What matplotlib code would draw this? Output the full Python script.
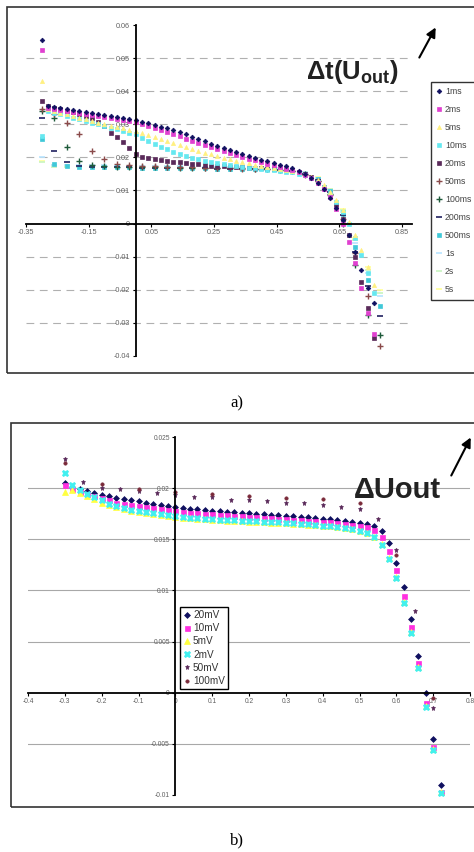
import matplotlib
matplotlib.use("Agg")
import matplotlib.pyplot as plt
from matplotlib.patches import Rectangle

plt.rcParams['font.family'] = ['Liberation Sans', 'DejaVu Sans']
plt.rcParams['mathtext.fontset'] = 'custom'
plt.rcParams['mathtext.rm'] = 'Liberation Sans:bold'
plt.rcParams['mathtext.bf'] = 'Liberation Sans:bold'
plt.rcParams['mathtext.it'] = 'Liberation Sans:bold'

# ---------------- data : chart a) ----------------
X_TOP = [-0.30, -0.28, -0.26, -0.24, -0.22, -0.20, -0.18, -0.16, -0.14, -0.12,
         -0.10, -0.08, -0.06, -0.04, -0.02, 0.00, 0.02, 0.04, 0.06, 0.08,
         0.10, 0.12, 0.14, 0.16, 0.18, 0.20, 0.22, 0.24, 0.26, 0.28,
         0.30, 0.32, 0.34, 0.36, 0.38, 0.40, 0.42, 0.44, 0.46, 0.48,
         0.50, 0.52, 0.54, 0.56, 0.58, 0.60, 0.62, 0.64, 0.66, 0.68,
         0.70, 0.72, 0.74, 0.76]
X_TOP2 = [-0.30, -0.26, -0.22, -0.18, -0.14, -0.10, -0.06, -0.02, 0.02, 0.06,
          0.10, 0.14, 0.18, 0.22, 0.26, 0.30, 0.34, 0.38, 0.42, 0.46,
          0.50, 0.54, 0.58, 0.62, 0.66, 0.70, 0.74, 0.78]

y_1ms = [0.0555, 0.0355, 0.0352, 0.0349, 0.0346, 0.0343, 0.0340, 0.0337, 0.0334, 0.0331,
         0.0328, 0.0325, 0.0322, 0.0319, 0.0316, 0.0313, 0.0308, 0.0303, 0.0298, 0.0293,
         0.0288, 0.0282, 0.0276, 0.0270, 0.0263, 0.0256, 0.0249, 0.0242, 0.0235, 0.0228,
         0.0222, 0.0216, 0.0210, 0.0204, 0.0198, 0.0193, 0.0188, 0.0183, 0.0178, 0.0173,
         0.0167, 0.0160, 0.0150, 0.0138, 0.0124, 0.0105, 0.0078, 0.0048, 0.0012, -0.0035,
         -0.0085, -0.0140, -0.0195, -0.0240]
y_2ms = [0.0525, 0.0350, 0.0347, 0.0344, 0.0341, 0.0338, 0.0335, 0.0332, 0.0329, 0.0326,
         0.0323, 0.0320, 0.0317, 0.0314, 0.0311, 0.0308, 0.0302, 0.0296, 0.0290, 0.0284,
         0.0278, 0.0271, 0.0264, 0.0257, 0.0250, 0.0243, 0.0237, 0.0231, 0.0225, 0.0219,
         0.0213, 0.0207, 0.0201, 0.0196, 0.0191, 0.0186, 0.0181, 0.0176, 0.0171, 0.0166,
         0.0161, 0.0155, 0.0147, 0.0137, 0.0124, 0.0106, 0.0080, 0.0045, 0.0000, -0.0055,
         -0.0120, -0.0195, -0.0270, -0.0335]
y_5ms = [0.0430, 0.0345, 0.0340, 0.0335, 0.0330, 0.0325, 0.0320, 0.0315, 0.0310, 0.0305,
         0.0300, 0.0296, 0.0292, 0.0288, 0.0284, 0.0280, 0.0274, 0.0268, 0.0262, 0.0256,
         0.0250, 0.0244, 0.0238, 0.0232, 0.0226, 0.0220, 0.0214, 0.0209, 0.0204, 0.0199,
         0.0194, 0.0190, 0.0186, 0.0182, 0.0178, 0.0175, 0.0172, 0.0169, 0.0166, 0.0163,
         0.0160, 0.0156, 0.0150, 0.0142, 0.0131, 0.0116, 0.0096, 0.0070, 0.0040, 0.0005,
         -0.0035, -0.0080, -0.0130, -0.0185]
y_10ms = [0.0265, 0.0340, 0.0335, 0.0330, 0.0325, 0.0320, 0.0315, 0.0310, 0.0305, 0.0300,
          0.0295, 0.0290, 0.0285, 0.0280, 0.0275, 0.0270, 0.0260, 0.0250, 0.0241, 0.0232,
          0.0224, 0.0217, 0.0210, 0.0204, 0.0199, 0.0194, 0.0190, 0.0186, 0.0182, 0.0179,
          0.0176, 0.0173, 0.0171, 0.0169, 0.0167, 0.0165, 0.0163, 0.0161, 0.0159, 0.0157,
          0.0155, 0.0151, 0.0146, 0.0138, 0.0127, 0.0112, 0.0092, 0.0066, 0.0035, -0.0002,
          -0.0045, -0.0095, -0.0150, -0.0210]
y_20ms = [0.0370, 0.0355, 0.0350, 0.0345, 0.0340, 0.0336, 0.0332, 0.0326, 0.0318, 0.0308,
          0.0296, 0.0275, 0.0262, 0.0246, 0.0228, 0.0210, 0.0200, 0.0197, 0.0194, 0.0191,
          0.0189, 0.0187, 0.0185, 0.0183, 0.0181, 0.0179, 0.0177, 0.0175, 0.0174, 0.0173,
          0.0172, 0.0171, 0.0170, 0.0169, 0.0168, 0.0167, 0.0166, 0.0165, 0.0164, 0.0163,
          0.0161, 0.0157, 0.0151, 0.0142, 0.0130, 0.0112, 0.0088, 0.0055, 0.0015, -0.0035,
          -0.0100, -0.0175, -0.0255, -0.0345]
y_50ms = [0.0345, 0.0330, 0.0305, 0.0270, 0.0220, 0.0196, 0.0180, 0.0176, 0.0174, 0.0173,
          0.0172, 0.0171, 0.0170, 0.0169, 0.0168, 0.0167, 0.0166, 0.0165, 0.0164, 0.0162,
          0.0158, 0.0148, 0.0128, 0.0085, 0.0015, -0.0090, -0.0220, -0.0370]
y_100ms = [0.0340, 0.0320, 0.0231, 0.0189, 0.0178, 0.0174, 0.0172, 0.0171, 0.0171, 0.0170,
           0.0170, 0.0169, 0.0169, 0.0168, 0.0168, 0.0167, 0.0167, 0.0166, 0.0165, 0.0163,
           0.0159, 0.0150, 0.0130, 0.0088, 0.0000, -0.0125, -0.0276, -0.0336]
y_200ms = [0.0320, 0.0219, 0.0185, 0.0175, 0.0172, 0.0171, 0.0170, 0.0170, 0.0169, 0.0169,
           0.0168, 0.0168, 0.0167, 0.0167, 0.0166, 0.0166, 0.0165, 0.0165, 0.0164, 0.0162,
           0.0158, 0.0150, 0.0132, 0.0095, 0.0025, -0.0085, -0.0190, -0.0280]
y_500ms = [0.0255, 0.0180, 0.0173, 0.0172, 0.0171, 0.0171, 0.0170, 0.0170, 0.0169, 0.0169,
           0.0168, 0.0168, 0.0167, 0.0167, 0.0166, 0.0166, 0.0165, 0.0165, 0.0164, 0.0162,
           0.0158, 0.0151, 0.0134, 0.0098, 0.0030, -0.0070, -0.0170, -0.0250]
y_1s = [0.0200, 0.0178, 0.0177, 0.0177, 0.0176, 0.0176, 0.0175, 0.0175, 0.0174, 0.0174,
        0.0173, 0.0173, 0.0172, 0.0172, 0.0171, 0.0171, 0.0170, 0.0170, 0.0169, 0.0167,
        0.0163, 0.0155, 0.0138, 0.0102, 0.0035, -0.0060, -0.0150, -0.0220]
y_2s = [0.0185, 0.0172, 0.0172, 0.0171, 0.0171, 0.0170, 0.0170, 0.0170, 0.0169, 0.0169,
        0.0169, 0.0168, 0.0168, 0.0168, 0.0167, 0.0167, 0.0166, 0.0166, 0.0165, 0.0164,
        0.0161, 0.0154, 0.0138, 0.0104, 0.0040, -0.0050, -0.0140, -0.0210]
y_5s = [0.0190, 0.0176, 0.0175, 0.0175, 0.0174, 0.0174, 0.0173, 0.0173, 0.0172, 0.0172,
        0.0171, 0.0171, 0.0170, 0.0170, 0.0169, 0.0169, 0.0168, 0.0168, 0.0167, 0.0166,
        0.0163, 0.0156, 0.0140, 0.0106, 0.0045, -0.0045, -0.0130, -0.0200]

TOP_LABELS = ['1ms', '2ms', '5ms', '10ms', '20ms', '50ms', '100ms', '200ms', '500ms', '1s', '2s', '5s']
TOP_X_TICKS = [-0.35, -0.15, 0.05, 0.25, 0.45, 0.65, 0.85]
TOP_Y_TICKS = [0.06, 0.05, 0.04, 0.03, 0.02, 0.01, 0.0, -0.01, -0.02, -0.03, -0.04]

# ---------------- data : chart b) ----------------
X_BOT = [-0.30, -0.28, -0.26, -0.24, -0.22, -0.20, -0.18, -0.16, -0.14, -0.12,
         -0.10, -0.08, -0.06, -0.04, -0.02, 0.00, 0.02, 0.04, 0.06, 0.08,
         0.10, 0.12, 0.14, 0.16, 0.18, 0.20, 0.22, 0.24, 0.26, 0.28,
         0.30, 0.32, 0.34, 0.36, 0.38, 0.40, 0.42, 0.44, 0.46, 0.48,
         0.50, 0.52, 0.54, 0.56, 0.58, 0.60, 0.62, 0.64, 0.66, 0.68,
         0.70, 0.72]
X_BOT50 = [-0.30, -0.25, -0.20, -0.15, -0.10, -0.05, 0.00, 0.05, 0.10, 0.15,
           0.20, 0.25, 0.30, 0.35, 0.40, 0.45, 0.50, 0.55, 0.60, 0.65, 0.70]
X_BOT100 = [-0.30, -0.20, -0.10, 0.00, 0.10, 0.20, 0.30, 0.40, 0.50, 0.60, 0.70]

y_20mV = [0.0205, 0.0201, 0.0199, 0.0197, 0.0195, 0.0193, 0.0192, 0.0190, 0.0189, 0.0188,
          0.0187, 0.0186, 0.0185, 0.0184, 0.0183, 0.0182, 0.0181, 0.0180, 0.0180, 0.0179,
          0.0178, 0.0178, 0.0177, 0.0177, 0.0176, 0.0176, 0.0175, 0.0175, 0.0174, 0.0174,
          0.0173, 0.0173, 0.0172, 0.0172, 0.0171, 0.0170, 0.0170, 0.0169, 0.0168, 0.0167,
          0.0166, 0.0165, 0.0163, 0.0158, 0.0146, 0.0127, 0.0103, 0.0072, 0.0036, 0.0000,
          -0.0045, -0.0090]
y_10mV = [0.0203, 0.0199, 0.0196, 0.0194, 0.0192, 0.0190, 0.0188, 0.0186, 0.0185, 0.0184,
          0.0183, 0.0182, 0.0181, 0.0180, 0.0179, 0.0178, 0.0177, 0.0176, 0.0176, 0.0175,
          0.0175, 0.0174, 0.0174, 0.0173, 0.0173, 0.0172, 0.0172, 0.0171, 0.0171, 0.0170,
          0.0170, 0.0169, 0.0169, 0.0168, 0.0168, 0.0167, 0.0167, 0.0166, 0.0165, 0.0164,
          0.0163, 0.0162, 0.0159, 0.0152, 0.0139, 0.0120, 0.0095, 0.0064, 0.0029, -0.0010,
          -0.0053, -0.0097]
y_5mV = [0.0196, 0.0198, 0.0195, 0.0192, 0.0189, 0.0186, 0.0184, 0.0182, 0.0180, 0.0178,
         0.0177, 0.0176, 0.0175, 0.0174, 0.0173, 0.0172, 0.0171, 0.0171, 0.0170, 0.0170,
         0.0169, 0.0169, 0.0168, 0.0168, 0.0168, 0.0167, 0.0167, 0.0167, 0.0166, 0.0166,
         0.0166, 0.0165, 0.0165, 0.0164, 0.0164, 0.0163, 0.0163, 0.0162, 0.0161, 0.0160,
         0.0158, 0.0156, 0.0152, 0.0145, 0.0132, 0.0113, 0.0089, 0.0059, 0.0025, -0.0013,
         -0.0055, -0.0097]
y_2mV = [0.0215, 0.0203, 0.0198, 0.0194, 0.0191, 0.0188, 0.0185, 0.0183, 0.0181, 0.0179,
         0.0178, 0.0177, 0.0176, 0.0175, 0.0174, 0.0173, 0.0172, 0.0171, 0.0171, 0.0170,
         0.0170, 0.0169, 0.0169, 0.0169, 0.0168, 0.0168, 0.0168, 0.0167, 0.0167, 0.0167,
         0.0166, 0.0166, 0.0165, 0.0165, 0.0164, 0.0163, 0.0163, 0.0162, 0.0161, 0.0160,
         0.0158, 0.0156, 0.0152, 0.0144, 0.0131, 0.0112, 0.0088, 0.0058, 0.0024, -0.0014,
         -0.0056, -0.0098]
y_50mV = [0.0229, 0.0206, 0.0200, 0.0199, 0.0197, 0.0195, 0.0193, 0.0191, 0.0191, 0.0188,
          0.0188, 0.0187, 0.0186, 0.0186, 0.0184, 0.0182, 0.0180, 0.0170, 0.0140, 0.0080,
          -0.0015]
y_100mV = [0.0225, 0.0204, 0.0199, 0.0196, 0.0194, 0.0192, 0.0190, 0.0189, 0.0186, 0.0135,
           -0.0005]

BOT_LABELS = ['20mV', '10mV', '5mV', '2mV', '50mV', '100mV']
BOT_X_TICKS = [-0.4, -0.3, -0.2, -0.1, 0.0, 0.1, 0.2, 0.3, 0.4, 0.5, 0.6, 0.7, 0.8]
BOT_Y_TICKS = [0.025, 0.02, 0.015, 0.01, 0.005, 0.0, -0.005, -0.01]

W, H = 474, 852
fig = plt.figure(figsize=(W / 100, H / 100), dpi=100)
fig.patch.set_facecolor('white')


def frac_box(x0, y0, x1, y1):
    return [x0 / W, 1 - y1 / H, (x1 - x0) / W, (y1 - y0) / H]


def style_axes(ax, xticks, yticks, xlabels, ylabels, fs):
    for s in ['top', 'right']:
        ax.spines[s].set_visible(False)
    ax.spines['left'].set_position(('data', 0))
    ax.spines['bottom'].set_position(('data', 0))
    ax.spines['left'].set_linewidth(1.3)
    ax.spines['bottom'].set_linewidth(1.3)
    ax.spines['left'].set_bounds(min(yticks), max(yticks))
    ax.set_xticks(xticks)
    ax.set_yticks(yticks)
    ax.set_xticklabels(xlabels)
    ax.set_yticklabels(ylabels)
    ax.tick_params(direction='out', length=2.5, width=0.8, labelsize=fs,
                   labelcolor='#606060', pad=1.5)
    ax.set_facecolor('none')


# ---------------- chart a) ----------------
axA = fig.add_axes(frac_box(26, 21.7, 411.6, 359.3))
axA.set_xlim(-0.35, 0.88)
axA.set_ylim(-0.041, 0.061)
for g in TOP_Y_TICKS[1:-1]:
    if g != 0:
        axA.axhline(g, color='#b0b0b0', lw=0.8, ls=(0, (7, 5)), zorder=0)

top_series = [
    (X_TOP2, y_5s, '_', '#ffff99', 4, 1.2),
    (X_TOP2, y_2s, '_', '#c8f5c0', 4, 1.2),
    (X_TOP2, y_1s, '_', '#b8e4ff', 4, 1.2),
    (X_TOP2, y_500ms, 's', '#40c8d8', 2.5, 0.5),
    (X_TOP2, y_200ms, '_', '#202060', 4, 1.2),
    (X_TOP2, y_100ms, '+', '#1e5a3a', 5, 1.0),
    (X_TOP2, y_50ms, '+', '#8a4a4a', 4, 1.0),
    (X_TOP, y_20ms, 's', '#5a2a5a', 2.6, 0.5),
    (X_TOP, y_10ms, 's', '#66e8f0', 2.6, 0.5),
    (X_TOP, y_5ms, '^', '#fff080', 3, 0.5),
    (X_TOP, y_2ms, 's', '#e040d0', 3, 0.5),
    (X_TOP, y_1ms, 'D', '#101060', 2.4, 0.5),
]
labels_rev = TOP_LABELS[::-1]
handles = {}
for (xs, ys, m, c, ms, mew), lab in zip(top_series, labels_rev):
    n = min(len(xs), len(ys))
    h, = axA.plot(xs[:n], ys[:n], ls='none', marker=m, color=c, ms=ms, mew=mew, label=lab)
    handles[lab] = h

style_axes(axA, TOP_X_TICKS, TOP_Y_TICKS,
           ['-0.35', '-0.15', '0.05', '0.25', '0.45', '0.65', '0.85'],
           ['0.06', '0.05', '0.04', '0.03', '0.02', '0.01', '0', '-0.01', '-0.02', '-0.03', '-0.04'],
           5.2)

legA = fig.legend([handles[l] for l in TOP_LABELS], TOP_LABELS,
                  loc='upper left', bbox_to_anchor=(431 / W, 1 - 82 / H),
                  bbox_transform=fig.transFigure, fontsize=6.3, frameon=True,
                  fancybox=False, edgecolor='black', labelspacing=1.03,
                  handlelength=0.7, handletextpad=0.3, borderpad=0.6,
                  borderaxespad=0, markerscale=1.0)
legA.get_frame().set_linewidth(1.0)
for t in legA.get_texts():
    t.set_color('#444444')

fig.text(306 / W, 1 - 72 / H, r'$\mathbf{\Delta t(U_{out})}$', fontsize=18.5,
         ha='left', va='center', color='#222222')
fig.patches.append(Rectangle((7 / W, 1 - 373 / H), 1.1, (373 - 7) / H,
                             transform=fig.transFigure, fill=False,
                             edgecolor='#333333', lw=1.2, figure=fig))
axA.annotate('', xy=(437, H - 25), xytext=(418, H - 60), xycoords='figure pixels',
             textcoords='figure pixels',
             arrowprops=dict(arrowstyle='-|>', lw=1.5, color='black', mutation_scale=14))
fig.text(237 / W, 1 - 403 / H, 'a)', fontsize=12, ha='center', va='center',
         family='Liberation Serif')

# ---------------- chart b) ----------------
axB = fig.add_axes(frac_box(28, 434, 470, 798))
axB.set_xlim(-0.4, 0.8)
axB.set_ylim(-0.0103, 0.0253)
for g in [0.02, 0.015, 0.01, 0.005, -0.005]:
    axB.axhline(g, color='#a8a8a8', lw=0.8, zorder=0)

bot_series = [
    (X_BOT, y_20mV, 'D', '#101060', 3.0, 0.5, '20mV'),
    (X_BOT, y_10mV, 's', '#ff30e0', 3.6, 0.5, '10mV'),
    (X_BOT, y_5mV, '^', '#ffff40', 4.2, 0.5, '5mV'),
    (X_BOT, y_2mV, 'X', '#40f0f0', 5.0, 0.5, '2mV'),
    (X_BOT50, y_50mV, '*', '#5a2a5a', 3.6, 0.5, '50mV'),
    (X_BOT100, y_100mV, 'o', '#7a2a3a', 2.4, 0.5, '100mV'),
]
order = [0, 4, 5, 1, 2, 3]
hb = {}
for i in order:
    xs, ys, m, c, ms, mew, lab = bot_series[i]
    n = min(len(xs), len(ys))
    h, = axB.plot(xs[:n], ys[:n], ls='none', marker=m, color=c, ms=ms, mew=mew, label=lab)
    hb[lab] = h

style_axes(axB, BOT_X_TICKS, BOT_Y_TICKS,
           ['-0.4', '-0.3', '-0.2', '-0.1', '0', '0.1', '0.2', '0.3', '0.4', '0.5', '0.6', '0.7', '0.8'],
           ['0.025', '0.02', '0.015', '0.01', '0.005', '0', '-0.005', '-0.01'],
           4.8)

legB = fig.legend([hb[l] for l in BOT_LABELS], BOT_LABELS,
                  loc='upper left', bbox_to_anchor=(180 / W, 1 - 607 / H),
                  bbox_transform=fig.transFigure, fontsize=7.2, frameon=True,
                  fancybox=False, edgecolor='black', labelspacing=0.32,
                  handlelength=0.7, handletextpad=0.3, borderpad=0.3,
                  borderaxespad=0, framealpha=1)
legB.get_frame().set_linewidth(1.0)
for t in legB.get_texts():
    t.set_color('#333333')

fig.text(354 / W, 1 - 490 / H, 'ΔUout', fontsize=21, fontweight='bold',
         ha='left', va='center', color='#222222')
fig.patches.append(Rectangle((11 / W, 1 - 807 / H), 1.1, (807 - 423) / H,
                             transform=fig.transFigure, fill=False,
                             edgecolor='#333333', lw=1.2, figure=fig))
axB.annotate('', xy=(472, H - 435), xytext=(450, H - 478), xycoords='figure pixels',
             textcoords='figure pixels',
             arrowprops=dict(arrowstyle='-|>', lw=1.5, color='black', mutation_scale=14))
fig.text(237 / W, 1 - 840 / H, 'b)', fontsize=12, ha='center', va='center',
         family='Liberation Serif')

fig.savefig('out.png', dpi=100, facecolor='white')
